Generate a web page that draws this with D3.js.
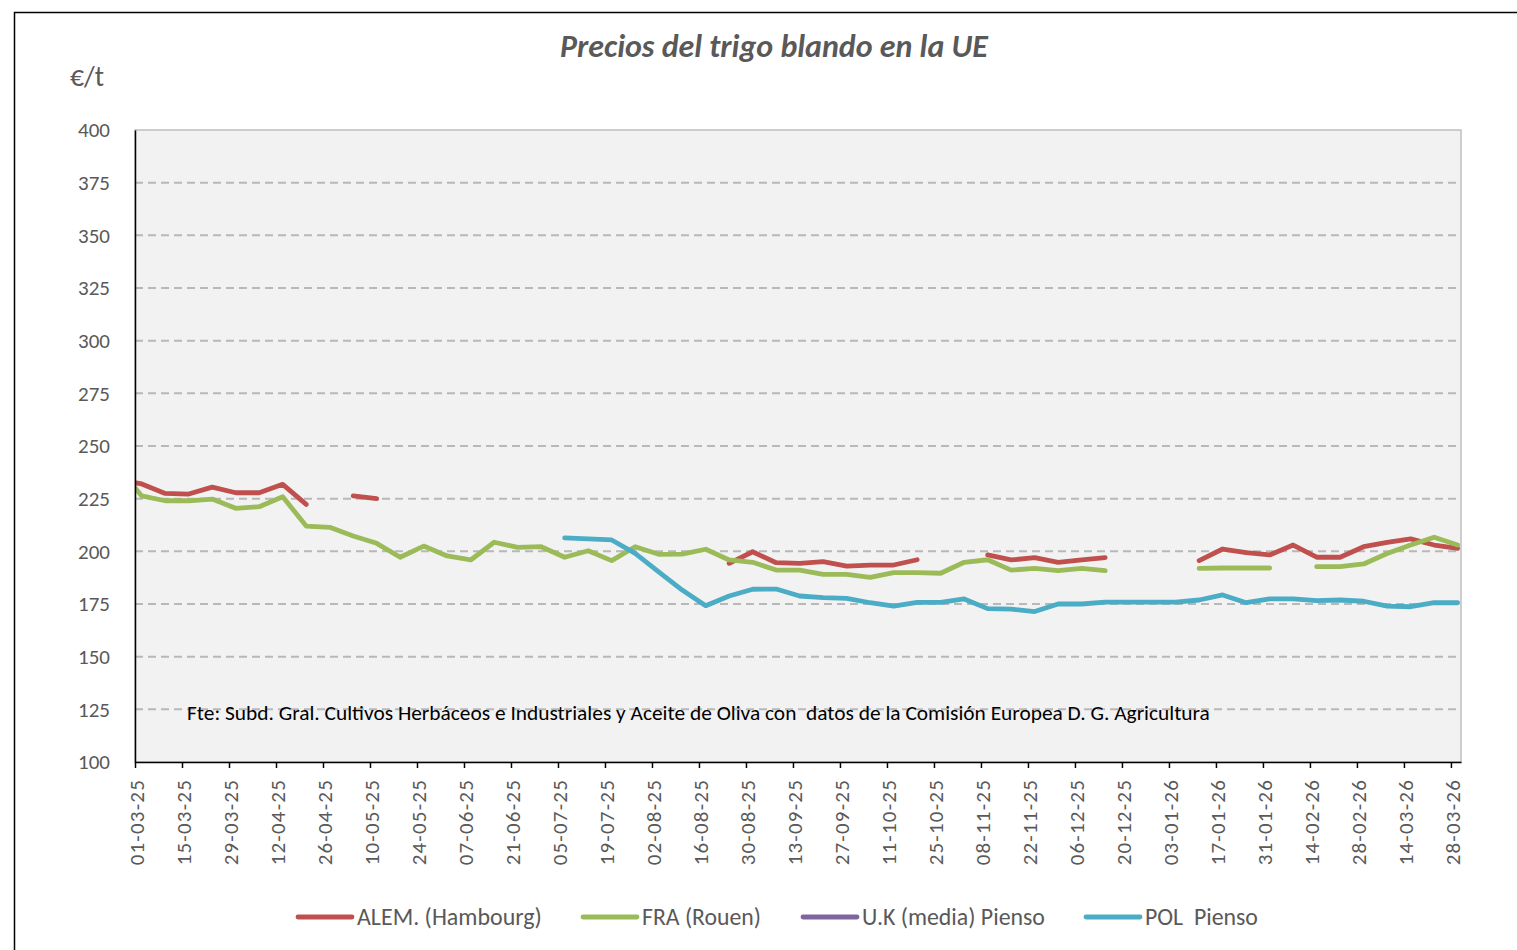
<!DOCTYPE html>
<html><head><meta charset="utf-8">
<script src="https://cdn.jsdelivr.net/npm/d3@7"></script>
<style>body{margin:0;background:#fff;} svg{display:block;} text{white-space:pre;}</style>
</head><body><svg id="c" width="1517" height="950"></svg>
<script>
// ---------- data ----------
const weekDates = ["2025-02-24","2025-03-03","2025-03-10","2025-03-17","2025-03-24","2025-03-31","2025-04-07","2025-04-14","2025-04-21","2025-04-28",
"2025-05-05","2025-05-12","2025-05-19","2025-05-26","2025-06-02","2025-06-09","2025-06-16","2025-06-23","2025-06-30","2025-07-07",
"2025-07-14","2025-07-21","2025-07-28","2025-08-04","2025-08-11","2025-08-18","2025-08-25","2025-09-01","2025-09-08","2025-09-15",
"2025-09-22","2025-09-29","2025-10-06","2025-10-13","2025-10-20","2025-10-27","2025-11-03","2025-11-10","2025-11-17","2025-11-24",
"2025-12-01","2025-12-08","2025-12-15","2025-12-22","2025-12-29","2026-01-05","2026-01-12","2026-01-19","2026-01-26","2026-02-02",
"2026-02-09","2026-02-16","2026-02-23","2026-03-02","2026-03-09","2026-03-16","2026-03-23","2026-03-30"];
const alem = [234,232,227.5,227.2,230.5,227.8,227.8,231.8,222.3,null,
226.3,225.0,null,null,null,null,null,null,null,null,
null,null,null,null,null,null,194.3,199.8,194.6,194.3,
195.1,193.0,193.5,193.5,196.0,null,null,198.3,195.9,197.0,
194.8,195.9,197.0,null,null,null,195.6,201.1,199.4,198.3,
203.0,197.2,197.2,202.2,204.3,205.9,203.0,201.4];
const fra = [240,226.3,224.0,224.0,224.8,220.4,221.2,225.9,212.0,211.4,
207.3,203.8,197.2,202.5,197.8,195.9,204.3,201.9,202.2,197.2,
200.3,195.6,202.2,198.6,198.7,201.0,195.9,194.8,191.1,191.1,
189.1,189.1,187.6,189.9,189.9,189.6,194.8,196.0,191.1,191.9,
190.8,191.9,190.8,null,null,null,191.9,192.1,192.1,192.1,
null,192.7,192.7,194.0,199.0,203.0,206.7,203.0];
const ukPienso = weekDates.map(() => null);
const polPienso = [null,null,null,null,null,null,null,null,null,null,
null,null,null,null,null,null,null,null,null,206.4,
205.9,205.4,199.0,190.3,181.6,174.2,178.8,182.0,182.1,178.8,
178.0,177.7,175.6,174.0,175.8,175.8,177.4,172.8,172.6,171.4,
175.0,175.0,175.9,175.9,175.9,175.9,176.9,179.3,175.6,177.4,
177.4,176.6,176.9,176.3,174.0,173.7,175.6,175.6];
const seriesNames = ["ALEM. (Hambourg)","FRA (Rouen)","U.K (media) Pienso","POL  Pienso"];
const seriesColors = ["#c0504d","#9bbb59","#8064a2","#4bacc6"];
const yTicks = [100,125,150,175,200,225,250,275,300,325,350,375,400];
const xTickStart = "2025-03-01", xTickEnd = "2026-03-28", xDomainEnd = "2026-03-31";
const titleText = "Precios del trigo blando en la UE";
const unitText = "€/t";
const sourceText = "Fte: Subd. Gral. Cultivos Herbáceos e Industriales y Aceite de Oliva con  datos de la Comisión Europea D. G. Agricultura";

// ---------- drawing ----------
const FONT = "Carlito, Lato, 'Open Sans', sans-serif";
const TXT = "#595959";
const svg = d3.select("#c");
const parse = d3.timeParse("%Y-%m-%d");
const fmt = d3.timeFormat("%d-%m-%y");
const dates = weekDates.map(parse);
const L = 135, R = 1461, T = 130, B = 762;

const x = d3.scaleTime().domain([parse(xTickStart), parse(xDomainEnd)]).range([L, R]);
const y = d3.scaleLinear().domain([100, 400]).range([B, T]);

function fit(sel, w) {
  const cur = sel.node().getComputedTextLength();
  const fs = parseFloat(sel.attr("font-size"));
  if (cur > 0) sel.attr("font-size", fs * w / cur);
  return sel;
}

// outer frame
svg.append("rect").attr("x", 14.5).attr("y", 12.5).attr("width", 1600).attr("height", 1100)
  .attr("fill", "#fff").attr("stroke", "#000").attr("stroke-width", 1.5);

// plot area
svg.append("rect").attr("x", L).attr("y", T).attr("width", R - L).attr("height", B - T)
  .attr("fill", "#f2f2f2").attr("stroke", "#bfbfbf").attr("stroke-width", 1.5);

// gridlines
svg.append("g").selectAll("line").data(yTicks.filter(v => v > 100 && v < 400)).join("line")
  .attr("x1", L).attr("x2", R).attr("y1", d => y(d)).attr("y2", d => y(d))
  .attr("stroke", "#b8b8b8").attr("stroke-width", 2).attr("stroke-dasharray", "8,5");

// source note
svg.append("text").attr("x", 187).attr("y", 713).attr("dy", "0.35em")
  .attr("xml:space", "preserve")
  .attr("font-family", FONT).attr("font-size", 18).attr("fill", "#000")
  .text(sourceText).call(fit, 1024);

// lines
svg.append("defs").append("clipPath").attr("id", "clip")
  .append("rect").attr("x", L).attr("y", T - 5).attr("width", R - L + 2).attr("height", B - T + 10);
const allSeries = [alem, fra, ukPienso, polPienso];
const line = d3.line().defined(d => d.v != null).x(d => x(d.d)).y(d => y(d.v));
const gl = svg.append("g").attr("clip-path", "url(#clip)");
allSeries.forEach((s, i) => {
  const pts = s.map((v, j) => ({d: dates[j], v}));
  gl.append("path").attr("d", line(pts)).attr("fill", "none")
    .attr("stroke", seriesColors[i]).attr("stroke-width", 4.8)
    .attr("stroke-linecap", "round").attr("stroke-linejoin", "round");
});

// y axis
const yAxis = svg.append("g").attr("transform", `translate(${L},0)`)
  .call(d3.axisLeft(y).tickValues(yTicks).tickSize(0).tickPadding(25));
yAxis.select(".domain").attr("stroke", "#000").attr("stroke-width", 1.5);
yAxis.selectAll("text").attr("font-family", FONT).attr("font-size", 21).attr("fill", TXT);

// x axis
const xTickVals = d3.timeDay.range(parse(xTickStart), d3.timeDay.offset(parse(xTickEnd), 1), 14);
const xAxis = svg.append("g").attr("transform", `translate(0,${B})`)
  .call(d3.axisBottom(x).tickValues(xTickVals).tickSize(6).tickSizeOuter(0).tickFormat(fmt));
xAxis.select(".domain").attr("stroke", "#000").attr("stroke-width", 1.5);
xAxis.selectAll(".tick line").attr("stroke", "#000").attr("stroke-width", 1.5);
xAxis.selectAll("text").attr("font-family", FONT).attr("font-size", 21).attr("fill", TXT)
  .attr("letter-spacing", "1.2px")
  .attr("text-anchor", "end").attr("transform", "rotate(-90)")
  .attr("x", -17).attr("y", 1).attr("dy", "0.35em");

// title and unit
svg.append("text").attr("x", 774).attr("y", 46).attr("dy", "0.35em").attr("text-anchor", "middle")
  .attr("font-family", FONT).attr("font-size", 26).attr("font-weight", "bold").attr("font-style", "italic")
  .attr("fill", TXT).text(titleText).call(fit, 428);
svg.append("text").attr("x", 70).attr("y", 76).attr("dy", "0.35em")
  .attr("font-family", FONT).attr("font-size", 20).attr("fill", TXT).text(unitText).call(fit, 34);

// legend
const legX = [298, 583, 803, 1086];
const legW = [185, 119, 183, 113];
const lg = svg.append("g");
seriesNames.forEach((n, i) => {
  lg.append("line").attr("x1", legX[i]).attr("x2", legX[i] + 54).attr("y1", 917).attr("y2", 917)
    .attr("stroke", seriesColors[i]).attr("stroke-width", 4.8).attr("stroke-linecap", "round");
  lg.append("text").attr("x", legX[i] + 59).attr("y", 917).attr("dy", "0.35em")
    .attr("font-family", FONT).attr("font-size", 20).attr("fill", TXT)
    .attr("xml:space", "preserve").text(n).call(fit, legW[i]);
});
</script></body></html>
